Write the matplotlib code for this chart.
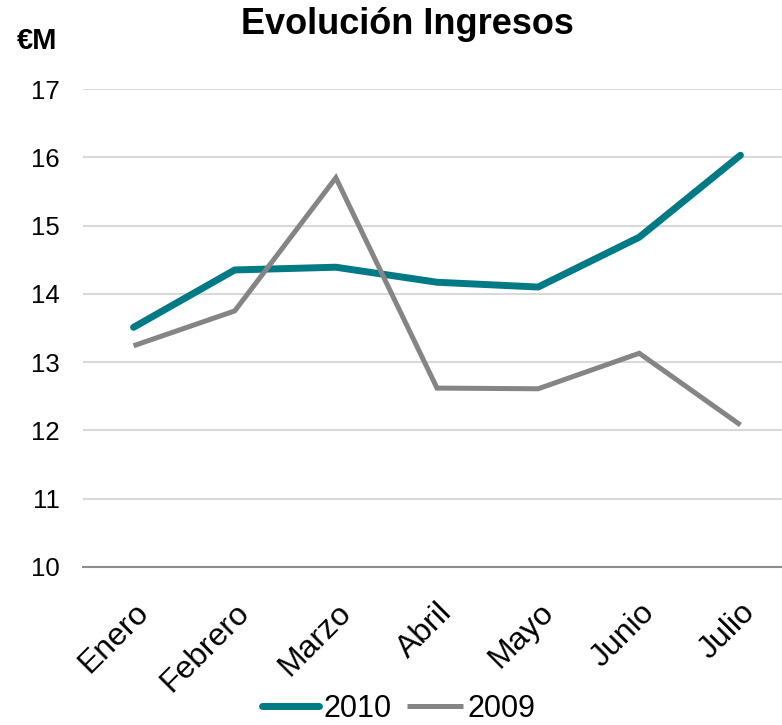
import matplotlib.pyplot as plt

plt.rcParams['font.family'] = ['Liberation Sans', 'DejaVu Sans']

meses = ['Enero', 'Febrero', 'Marzo', 'Abril', 'Mayo', 'Junio', 'Julio']
ingresos_2010 = [13.51, 14.35, 14.39, 14.17, 14.10, 14.83, 16.03]
ingresos_2009 = [13.24, 13.75, 15.70, 12.62, 12.61, 13.13, 12.08]
y_ticks = [10, 11, 12, 13, 14, 15, 16, 17]

fig = plt.figure(figsize=(7.82, 7.25), dpi=100)
ax = fig.add_axes([83 / 782, 1 - 567 / 725, 708 / 782, 478 / 725])

x = list(range(len(meses)))
ax.plot(x, ingresos_2010, color='#007A85', lw=5, solid_capstyle='round',
        solid_joinstyle='round', label='2010', zorder=3)
ax.plot(x, ingresos_2009, color='#858585', lw=3.6, solid_capstyle='butt',
        solid_joinstyle='miter', label='2009', zorder=3)

ax.set_xlim(-0.5, 6.5)
ax.set_ylim(10, 17)
ax.set_yticks(y_ticks)
ax.set_yticklabels([str(v) for v in y_ticks], fontsize=18.5)
ax.set_xticks(x)
ax.set_xticklabels(meses, fontsize=23, rotation=45, ha='right',
                   rotation_mode='anchor')
ax.tick_params(axis='y', length=0, pad=17)
ax.tick_params(axis='x', length=0, pad=22)

for s in ['top', 'right', 'left']:
    ax.spines[s].set_visible(False)
ax.spines['bottom'].set_color('#8c8c8c')
ax.spines['bottom'].set_linewidth(1.5)
ax.grid(axis='y', color='#d9d9d9', lw=1.5)
ax.set_axisbelow(True)

fig.text(407 / 782, 1 - 24 / 725, 'Evolución Ingresos', fontsize=26,
         fontweight='bold', ha='center', va='center')
fig.text(37 / 782, 1 - 41 / 725, '€M', fontsize=21, fontweight='bold',
         ha='center', va='center')

fig.legend(loc='center', bbox_to_anchor=(399 / 782, 1 - 709 / 725), ncol=2,
           frameon=False, fontsize=22, handlelength=1.85, handletextpad=0.15,
           columnspacing=0.5, borderpad=0)

fig.savefig('out.png', dpi=100)
